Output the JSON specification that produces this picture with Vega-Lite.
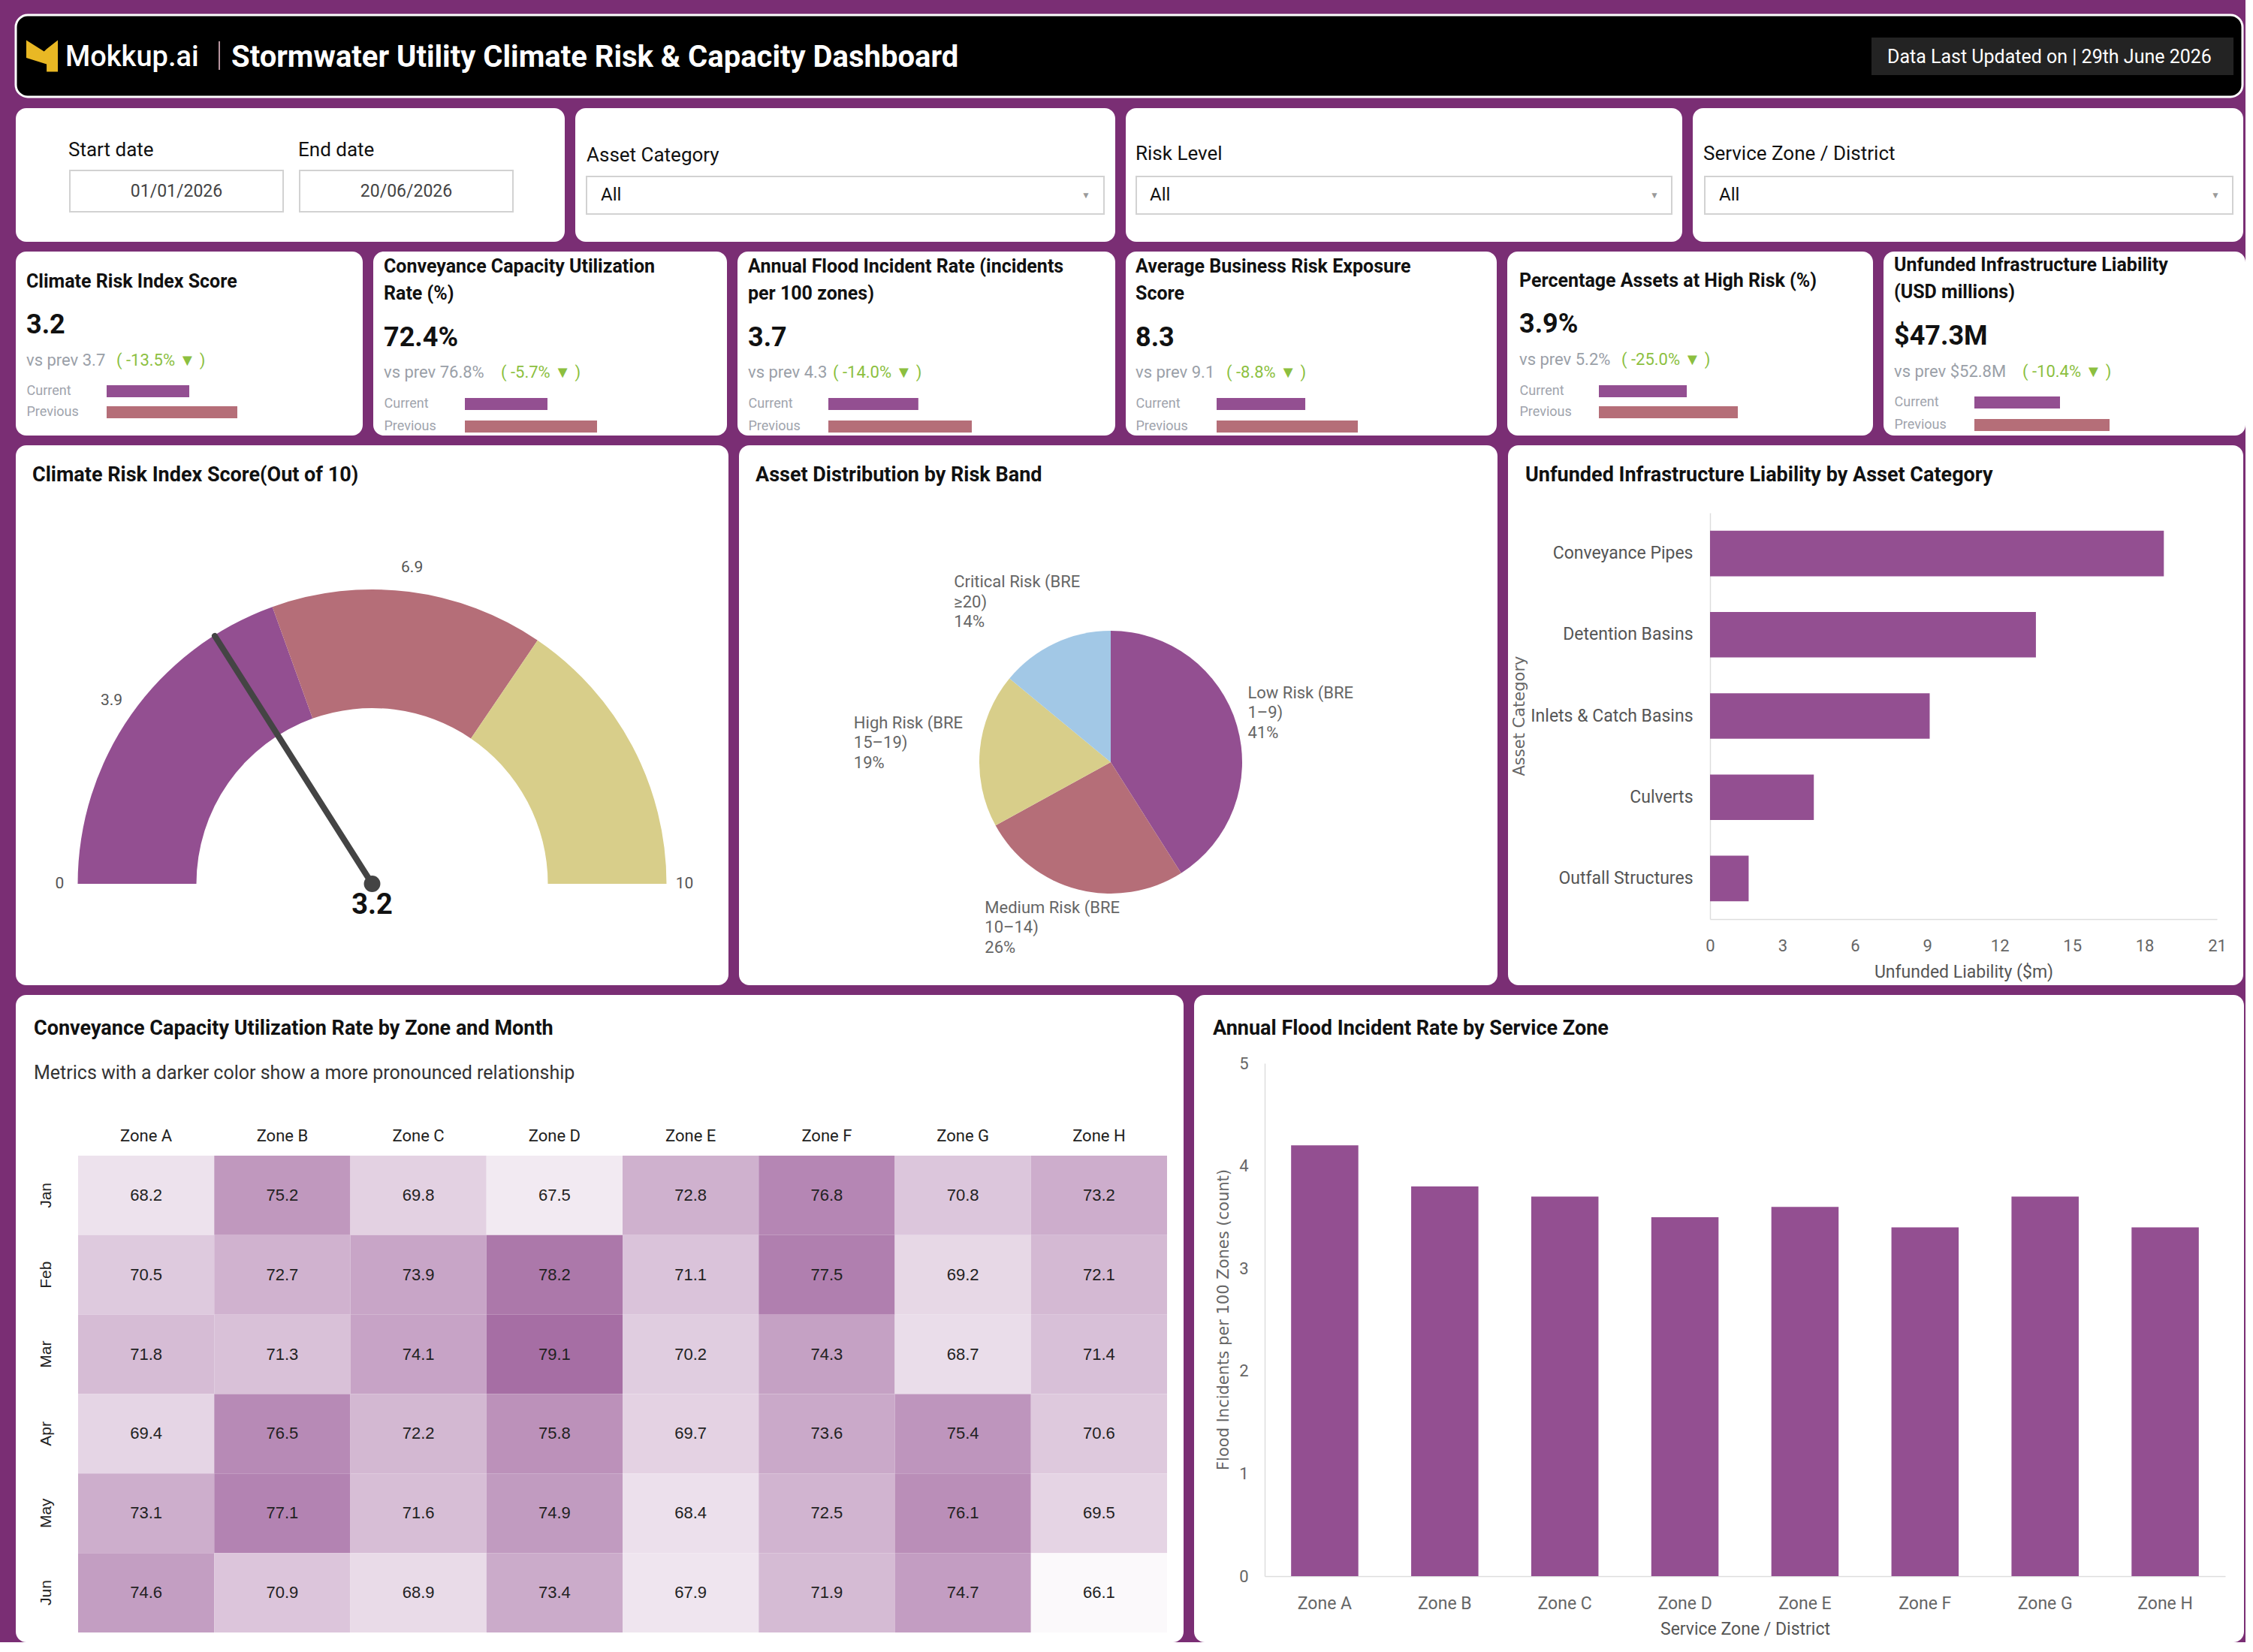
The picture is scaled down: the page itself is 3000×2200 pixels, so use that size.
{
 "$schema": "https://vega.github.io/schema/vega-lite/v6.json",
 "background": "#7a2e74",
 "padding": {"left": 19, "top": 18, "right": 0, "bottom": 0},
 "config": {"font": "Roboto", "view": {"stroke": null}, "axis": {"labelFont": "Roboto", "titleFont": "Roboto", "labelFlush": false, "labelOverlap": false, "grid": false}},
 "spacing": 13,
 "resolve": {"scale": {"color": "independent"}},
 "vconcat": [
  {
   "width": 2965, "height": 109,
   "view": {"fill": "#000000", "stroke": "#ffffff", "strokeWidth": 3, "cornerRadius": 16},
   "layer": [
    {"data": {"values": [{"brand": "Mokkup.ai"}]},
     "mark": {"type": "point", "shape": "M -1 -1 L 0.13 -0.28 L 0.29 -0.44 L 1 -1 L 1 1 L 0.29 1 L 0.29 0.52 L -1 0.12 Z", "filled": true, "color": "#e9b824", "size": 1764, "opacity": 1},
     "encoding": {"x": {"datum": 35, "type": "quantitative", "scale": {"domain": [0, 2965], "range": [0, 2965], "nice": false, "zero": false}, "axis": null},
                  "y": {"datum": 54.5, "type": "quantitative", "scale": {"domain": [0, 109], "range": [0, 109], "nice": false, "zero": false}, "axis": null}}},
    {"data": {"values": [{"brand": "Mokkup.ai"}]},
     "mark": {"type": "text", "align": "left", "baseline": "alphabetic", "fontSize": 38, "fontWeight": 500, "color": "#ffffff"},
     "encoding": {"text": {"field": "brand"}, "x": {"datum": 66, "type": "quantitative"}, "y": {"datum": 68, "type": "quantitative"}}},
    {"data": {"values": [{"sep": "|"}]},
     "mark": {"type": "rule", "color": "#f3c6d3", "strokeWidth": 1.5},
     "encoding": {"x": {"datum": 271, "type": "quantitative"}, "y": {"datum": 35, "type": "quantitative"}, "y2": {"datum": 73}}},
    {"data": {"values": [{"title": "Stormwater Utility Climate Risk & Capacity Dashboard"}]},
     "mark": {"type": "text", "align": "left", "baseline": "alphabetic", "fontSize": 40, "fontWeight": "bold", "color": "#ffffff"},
     "encoding": {"text": {"field": "title"}, "x": {"datum": 287, "type": "quantitative"}, "y": {"datum": 69, "type": "quantitative"}}},
    {"data": {"values": [{"updated": "Data Last Updated on | 29th June 2026"}]},
     "mark": {"type": "rect", "color": "#232323"},
     "encoding": {"x": {"datum": 2471, "type": "quantitative"}, "x2": {"datum": 2953}, "y": {"datum": 30, "type": "quantitative"}, "y2": {"datum": 80}}},
    {"data": {"values": [{"updated": "Data Last Updated on | 29th June 2026"}]},
     "mark": {"type": "text", "align": "left", "baseline": "middle", "fontSize": 25, "color": "#ffffff"},
     "encoding": {"text": {"field": "updated"}, "x": {"datum": 2492, "type": "quantitative"}, "y": {"datum": 56, "type": "quantitative"}}}
   ]
  },
  {
   "hconcat": [
    {
     "width": 731, "height": 178,
     "view": {"fill": "#ffffff", "stroke": null, "cornerRadius": 14},
     "data": {"values": [{"which": "Start date", "date": "01/01/2026"}, {"which": "End date", "date": "20/06/2026"}]},
     "encoding": {"x": {"field": "which", "type": "nominal", "sort": null, "scale": {"domain": ["Start date", "End date"], "range": [72, 662], "paddingInner": 0.0719, "paddingOuter": 0}, "axis": null}},
     "layer": [
      {"mark": {"type": "rect", "fill": "#ffffff", "stroke": "#d2d2d2", "strokeWidth": 2},
       "encoding": {"y": {"datum": 83, "type": "quantitative", "scale": {"domain": [0, 178], "range": [0, 178], "nice": false, "zero": false}, "axis": null}, "y2": {"datum": 138}}},
      {"mark": {"type": "text", "align": "left", "baseline": "alphabetic", "dx": -2, "fontSize": 26, "color": "#111111"},
       "encoding": {"x": {"field": "which", "type": "nominal", "bandPosition": 0}, "y": {"datum": 64, "type": "quantitative"}, "text": {"field": "which"}}},
      {"mark": {"type": "text", "align": "center", "baseline": "middle", "fontSize": 23, "color": "#444444"},
       "encoding": {"y": {"datum": 111, "type": "quantitative"}, "text": {"field": "date"}}}
     ]
    },
    {
     "width": 719, "height": 178,
     "view": {"fill": "#ffffff", "stroke": null, "cornerRadius": 14},
     "data": {"values": [{"filter": "Asset Category", "selected": "All", "arrow": "▼"}]},
     "encoding": {"x": {"field": "filter", "type": "nominal", "scale": {"range": [15, 704], "paddingInner": 0, "paddingOuter": 0}, "axis": null, "bandPosition": 0}},
     "layer": [
      {"mark": {"type": "rect", "fill": "#ffffff", "stroke": "#d2d2d2", "strokeWidth": 2},
       "encoding": {"x": {"field": "filter", "type": "nominal"}, "y": {"datum": 91, "type": "quantitative", "scale": {"domain": [0, 178], "range": [0, 178], "nice": false, "zero": false}, "axis": null}, "y2": {"datum": 141}}},
      {"mark": {"type": "text", "align": "left", "baseline": "alphabetic", "fontSize": 26, "color": "#111111"},
       "encoding": {"y": {"datum": 71, "type": "quantitative"}, "text": {"field": "filter"}}},
      {"mark": {"type": "text", "align": "left", "baseline": "middle", "dx": 19, "fontSize": 24, "color": "#111111"},
       "encoding": {"y": {"datum": 116, "type": "quantitative"}, "text": {"field": "selected"}}},
      {"mark": {"type": "text", "align": "center", "baseline": "middle", "dx": -24, "fontSize": 12, "color": "#9a9a9a"},
       "encoding": {"x": {"field": "filter", "type": "nominal", "bandPosition": 1}, "y": {"datum": 116, "type": "quantitative"}, "text": {"field": "arrow"}}}
     ]
    },
    {
     "width": 741, "height": 178,
     "view": {"fill": "#ffffff", "stroke": null, "cornerRadius": 14},
     "data": {"values": [{"filter": "Risk Level", "selected": "All", "arrow": "▼"}]},
     "encoding": {"x": {"field": "filter", "type": "nominal", "scale": {"range": [14, 727], "paddingInner": 0, "paddingOuter": 0}, "axis": null, "bandPosition": 0}},
     "layer": [
      {"mark": {"type": "rect", "fill": "#ffffff", "stroke": "#d2d2d2", "strokeWidth": 2},
       "encoding": {"x": {"field": "filter", "type": "nominal"}, "y": {"datum": 91, "type": "quantitative", "scale": {"domain": [0, 178], "range": [0, 178], "nice": false, "zero": false}, "axis": null}, "y2": {"datum": 141}}},
      {"mark": {"type": "text", "align": "left", "baseline": "alphabetic", "dx": -1, "fontSize": 26, "color": "#111111"},
       "encoding": {"y": {"datum": 69, "type": "quantitative"}, "text": {"field": "filter"}}},
      {"mark": {"type": "text", "align": "left", "baseline": "middle", "dx": 18, "fontSize": 24, "color": "#111111"},
       "encoding": {"y": {"datum": 116, "type": "quantitative"}, "text": {"field": "selected"}}},
      {"mark": {"type": "text", "align": "center", "baseline": "middle", "dx": -23, "fontSize": 12, "color": "#9a9a9a"},
       "encoding": {"x": {"field": "filter", "type": "nominal", "bandPosition": 1}, "y": {"datum": 116, "type": "quantitative"}, "text": {"field": "arrow"}}}
     ]
    },
    {
     "width": 733, "height": 178,
     "view": {"fill": "#ffffff", "stroke": null, "cornerRadius": 14},
     "data": {"values": [{"filter": "Service Zone / District", "selected": "All", "arrow": "▼"}]},
     "encoding": {"x": {"field": "filter", "type": "nominal", "scale": {"range": [16, 719], "paddingInner": 0, "paddingOuter": 0}, "axis": null, "bandPosition": 0}},
     "layer": [
      {"mark": {"type": "rect", "fill": "#ffffff", "stroke": "#d2d2d2", "strokeWidth": 2},
       "encoding": {"x": {"field": "filter", "type": "nominal"}, "y": {"datum": 91, "type": "quantitative", "scale": {"domain": [0, 178], "range": [0, 178], "nice": false, "zero": false}, "axis": null}, "y2": {"datum": 141}}},
      {"mark": {"type": "text", "align": "left", "baseline": "alphabetic", "dx": -2, "fontSize": 26, "color": "#111111"},
       "encoding": {"y": {"datum": 69, "type": "quantitative"}, "text": {"field": "filter"}}},
      {"mark": {"type": "text", "align": "left", "baseline": "middle", "dx": 19, "fontSize": 24, "color": "#111111"},
       "encoding": {"y": {"datum": 116, "type": "quantitative"}, "text": {"field": "selected"}}},
      {"mark": {"type": "text", "align": "center", "baseline": "middle", "dx": -23, "fontSize": 12, "color": "#9a9a9a"},
       "encoding": {"x": {"field": "filter", "type": "nominal", "bandPosition": 1}, "y": {"datum": 116, "type": "quantitative"}, "text": {"field": "arrow"}}}
     ]
    }
   ],
   "spacing": 14
  },
  {
   "hconcat": [
    {
     "width": 462, "height": 245,
     "view": {"fill": "#ffffff", "stroke": null, "cornerRadius": 14},
     "resolve": {"scale": {"x": "independent", "y": "independent"}},
     "layer": [
      {"data": {"values": [{"period": "Current", "value": 3.2}, {"period": "Previous", "value": 3.7}]},
       "mark": {"type": "bar"},
       "encoding": {
        "y": {"field": "period", "type": "nominal", "scale": {"domain": ["Current", "Previous"], "range": [178, 222], "paddingInner": 0.4286, "paddingOuter": 0}, "axis": {"offset": -121, "domain": false, "ticks": false, "tickSize": 0, "labelAlign": "left", "labelPadding": 107, "labelFontSize": 18, "labelColor": "#a0a4ad", "title": null}},
        "x": {"field": "value", "type": "quantitative", "scale": {"domain": [2.34, 3.7], "range": [121, 295], "nice": false, "zero": false}, "axis": null},
        "x2": {"datum": 2.34},
        "color": {"field": "period", "type": "nominal", "scale": {"domain": ["Current", "Previous"], "range": ["#934f91", "#b56e78"]}, "legend": null}}},
      {"data": {"values": [{"t": "Climate Risk Index Score"}]},
       "mark": {"type": "text", "align": "left", "baseline": "alphabetic", "fontSize": 25, "fontWeight": "bold", "color": "#111111", "lineBreak": "\n", "lineHeight": 36},
       "encoding": {"text": {"field": "t"}, "x": {"datum": 14, "type": "quantitative", "scale": {"domain": [0, 462], "range": [0, 462], "nice": false, "zero": false}, "axis": null}, "y": {"datum": 48, "type": "quantitative", "scale": {"domain": [0, 245], "range": [0, 245], "nice": false, "zero": false}, "axis": null}}},
      {"data": {"values": [{"t": "3.2"}]},
       "mark": {"type": "text", "align": "left", "baseline": "alphabetic", "fontSize": 36, "fontWeight": "bold", "color": "#111111"},
       "encoding": {"text": {"field": "t"}, "x": {"datum": 14, "type": "quantitative", "scale": {"domain": [0, 462], "range": [0, 462], "nice": false, "zero": false}, "axis": null}, "y": {"datum": 109, "type": "quantitative", "scale": {"domain": [0, 245], "range": [0, 245], "nice": false, "zero": false}, "axis": null}}},
      {"data": {"values": [{"t": "vs prev 3.7"}]},
       "mark": {"type": "text", "align": "left", "baseline": "middle", "fontSize": 22, "color": "#9aa0a8"},
       "encoding": {"text": {"field": "t"}, "x": {"datum": 14, "type": "quantitative", "scale": {"domain": [0, 462], "range": [0, 462], "nice": false, "zero": false}, "axis": null}, "y": {"datum": 145, "type": "quantitative", "scale": {"domain": [0, 245], "range": [0, 245], "nice": false, "zero": false}, "axis": null}}},
      {"data": {"values": [{"t": "( -13.5% ▼ )"}]},
       "mark": {"type": "text", "align": "left", "baseline": "middle", "fontSize": 22, "color": "#8cbf3f"},
       "encoding": {"text": {"field": "t"}, "x": {"datum": 134, "type": "quantitative", "scale": {"domain": [0, 462], "range": [0, 462], "nice": false, "zero": false}, "axis": null}, "y": {"datum": 145, "type": "quantitative", "scale": {"domain": [0, 245], "range": [0, 245], "nice": false, "zero": false}, "axis": null}}}
     ]
    },
    {
     "width": 471, "height": 245,
     "view": {"fill": "#ffffff", "stroke": null, "cornerRadius": 14},
     "resolve": {"scale": {"x": "independent", "y": "independent"}},
     "layer": [
      {"data": {"values": [{"period": "Current", "value": 72.4}, {"period": "Previous", "value": 76.8}]},
       "mark": {"type": "bar"},
       "encoding": {
        "y": {"field": "period", "type": "nominal", "scale": {"domain": ["Current", "Previous"], "range": [195, 241], "paddingInner": 0.4667, "paddingOuter": 0}, "axis": {"offset": -122, "domain": false, "ticks": false, "tickSize": 0, "labelAlign": "left", "labelPadding": 108, "labelFontSize": 18, "labelColor": "#a0a4ad", "title": null}},
        "x": {"field": "value", "type": "quantitative", "scale": {"domain": [65.07, 76.8], "range": [122, 298], "nice": false, "zero": false}, "axis": null},
        "x2": {"datum": 65.07},
        "color": {"field": "period", "type": "nominal", "scale": {"domain": ["Current", "Previous"], "range": ["#934f91", "#b56e78"]}, "legend": null}}},
      {"data": {"values": [{"t": "Conveyance Capacity Utilization\nRate (%)"}]},
       "mark": {"type": "text", "align": "left", "baseline": "alphabetic", "fontSize": 25, "fontWeight": "bold", "color": "#111111", "lineBreak": "\n", "lineHeight": 36},
       "encoding": {"text": {"field": "t"}, "x": {"datum": 14, "type": "quantitative", "scale": {"domain": [0, 471], "range": [0, 471], "nice": false, "zero": false}, "axis": null}, "y": {"datum": 28, "type": "quantitative", "scale": {"domain": [0, 245], "range": [0, 245], "nice": false, "zero": false}, "axis": null}}},
      {"data": {"values": [{"t": "72.4%"}]},
       "mark": {"type": "text", "align": "left", "baseline": "alphabetic", "fontSize": 36, "fontWeight": "bold", "color": "#111111"},
       "encoding": {"text": {"field": "t"}, "x": {"datum": 14, "type": "quantitative", "scale": {"domain": [0, 471], "range": [0, 471], "nice": false, "zero": false}, "axis": null}, "y": {"datum": 126, "type": "quantitative", "scale": {"domain": [0, 245], "range": [0, 245], "nice": false, "zero": false}, "axis": null}}},
      {"data": {"values": [{"t": "vs prev 76.8%"}]},
       "mark": {"type": "text", "align": "left", "baseline": "middle", "fontSize": 22, "color": "#9aa0a8"},
       "encoding": {"text": {"field": "t"}, "x": {"datum": 14, "type": "quantitative", "scale": {"domain": [0, 471], "range": [0, 471], "nice": false, "zero": false}, "axis": null}, "y": {"datum": 161, "type": "quantitative", "scale": {"domain": [0, 245], "range": [0, 245], "nice": false, "zero": false}, "axis": null}}},
      {"data": {"values": [{"t": "( -5.7% ▼ )"}]},
       "mark": {"type": "text", "align": "left", "baseline": "middle", "fontSize": 22, "color": "#8cbf3f"},
       "encoding": {"text": {"field": "t"}, "x": {"datum": 170, "type": "quantitative", "scale": {"domain": [0, 471], "range": [0, 471], "nice": false, "zero": false}, "axis": null}, "y": {"datum": 161, "type": "quantitative", "scale": {"domain": [0, 245], "range": [0, 245], "nice": false, "zero": false}, "axis": null}}}
     ]
    },
    {
     "width": 503, "height": 245,
     "view": {"fill": "#ffffff", "stroke": null, "cornerRadius": 14},
     "resolve": {"scale": {"x": "independent", "y": "independent"}},
     "layer": [
      {"data": {"values": [{"period": "Current", "value": 3.7}, {"period": "Previous", "value": 4.3}]},
       "mark": {"type": "bar"},
       "encoding": {
        "y": {"field": "period", "type": "nominal", "scale": {"domain": ["Current", "Previous"], "range": [195, 241], "paddingInner": 0.4667, "paddingOuter": 0}, "axis": {"offset": -121, "domain": false, "ticks": false, "tickSize": 0, "labelAlign": "left", "labelPadding": 107, "labelFontSize": 18, "labelColor": "#a0a4ad", "title": null}},
        "x": {"field": "value", "type": "quantitative", "scale": {"domain": [2.69, 4.3], "range": [121, 312], "nice": false, "zero": false}, "axis": null},
        "x2": {"datum": 2.69},
        "color": {"field": "period", "type": "nominal", "scale": {"domain": ["Current", "Previous"], "range": ["#934f91", "#b56e78"]}, "legend": null}}},
      {"data": {"values": [{"t": "Annual Flood Incident Rate (incidents\nper 100 zones)"}]},
       "mark": {"type": "text", "align": "left", "baseline": "alphabetic", "fontSize": 25, "fontWeight": "bold", "color": "#111111", "lineBreak": "\n", "lineHeight": 36},
       "encoding": {"text": {"field": "t"}, "x": {"datum": 14, "type": "quantitative", "scale": {"domain": [0, 503], "range": [0, 503], "nice": false, "zero": false}, "axis": null}, "y": {"datum": 28, "type": "quantitative", "scale": {"domain": [0, 245], "range": [0, 245], "nice": false, "zero": false}, "axis": null}}},
      {"data": {"values": [{"t": "3.7"}]},
       "mark": {"type": "text", "align": "left", "baseline": "alphabetic", "fontSize": 36, "fontWeight": "bold", "color": "#111111"},
       "encoding": {"text": {"field": "t"}, "x": {"datum": 14, "type": "quantitative", "scale": {"domain": [0, 503], "range": [0, 503], "nice": false, "zero": false}, "axis": null}, "y": {"datum": 126, "type": "quantitative", "scale": {"domain": [0, 245], "range": [0, 245], "nice": false, "zero": false}, "axis": null}}},
      {"data": {"values": [{"t": "vs prev 4.3"}]},
       "mark": {"type": "text", "align": "left", "baseline": "middle", "fontSize": 22, "color": "#9aa0a8"},
       "encoding": {"text": {"field": "t"}, "x": {"datum": 14, "type": "quantitative", "scale": {"domain": [0, 503], "range": [0, 503], "nice": false, "zero": false}, "axis": null}, "y": {"datum": 161, "type": "quantitative", "scale": {"domain": [0, 245], "range": [0, 245], "nice": false, "zero": false}, "axis": null}}},
      {"data": {"values": [{"t": "( -14.0% ▼ )"}]},
       "mark": {"type": "text", "align": "left", "baseline": "middle", "fontSize": 22, "color": "#8cbf3f"},
       "encoding": {"text": {"field": "t"}, "x": {"datum": 127, "type": "quantitative", "scale": {"domain": [0, 503], "range": [0, 503], "nice": false, "zero": false}, "axis": null}, "y": {"datum": 161, "type": "quantitative", "scale": {"domain": [0, 245], "range": [0, 245], "nice": false, "zero": false}, "axis": null}}}
     ]
    },
    {
     "width": 494, "height": 245,
     "view": {"fill": "#ffffff", "stroke": null, "cornerRadius": 14},
     "resolve": {"scale": {"x": "independent", "y": "independent"}},
     "layer": [
      {"data": {"values": [{"period": "Current", "value": 8.3}, {"period": "Previous", "value": 9.1}]},
       "mark": {"type": "bar"},
       "encoding": {
        "y": {"field": "period", "type": "nominal", "scale": {"domain": ["Current", "Previous"], "range": [195, 241], "paddingInner": 0.4667, "paddingOuter": 0}, "axis": {"offset": -121, "domain": false, "ticks": false, "tickSize": 0, "labelAlign": "left", "labelPadding": 108, "labelFontSize": 18, "labelColor": "#a0a4ad", "title": null}},
        "x": {"field": "value", "type": "quantitative", "scale": {"domain": [6.95, 9.1], "range": [121, 309], "nice": false, "zero": false}, "axis": null},
        "x2": {"datum": 6.95},
        "color": {"field": "period", "type": "nominal", "scale": {"domain": ["Current", "Previous"], "range": ["#934f91", "#b56e78"]}, "legend": null}}},
      {"data": {"values": [{"t": "Average Business Risk Exposure\nScore"}]},
       "mark": {"type": "text", "align": "left", "baseline": "alphabetic", "fontSize": 25, "fontWeight": "bold", "color": "#111111", "lineBreak": "\n", "lineHeight": 36},
       "encoding": {"text": {"field": "t"}, "x": {"datum": 13, "type": "quantitative", "scale": {"domain": [0, 494], "range": [0, 494], "nice": false, "zero": false}, "axis": null}, "y": {"datum": 28, "type": "quantitative", "scale": {"domain": [0, 245], "range": [0, 245], "nice": false, "zero": false}, "axis": null}}},
      {"data": {"values": [{"t": "8.3"}]},
       "mark": {"type": "text", "align": "left", "baseline": "alphabetic", "fontSize": 36, "fontWeight": "bold", "color": "#111111"},
       "encoding": {"text": {"field": "t"}, "x": {"datum": 13, "type": "quantitative", "scale": {"domain": [0, 494], "range": [0, 494], "nice": false, "zero": false}, "axis": null}, "y": {"datum": 126, "type": "quantitative", "scale": {"domain": [0, 245], "range": [0, 245], "nice": false, "zero": false}, "axis": null}}},
      {"data": {"values": [{"t": "vs prev 9.1"}]},
       "mark": {"type": "text", "align": "left", "baseline": "middle", "fontSize": 22, "color": "#9aa0a8"},
       "encoding": {"text": {"field": "t"}, "x": {"datum": 13, "type": "quantitative", "scale": {"domain": [0, 494], "range": [0, 494], "nice": false, "zero": false}, "axis": null}, "y": {"datum": 161, "type": "quantitative", "scale": {"domain": [0, 245], "range": [0, 245], "nice": false, "zero": false}, "axis": null}}},
      {"data": {"values": [{"t": "( -8.8% ▼ )"}]},
       "mark": {"type": "text", "align": "left", "baseline": "middle", "fontSize": 22, "color": "#8cbf3f"},
       "encoding": {"text": {"field": "t"}, "x": {"datum": 134, "type": "quantitative", "scale": {"domain": [0, 494], "range": [0, 494], "nice": false, "zero": false}, "axis": null}, "y": {"datum": 161, "type": "quantitative", "scale": {"domain": [0, 245], "range": [0, 245], "nice": false, "zero": false}, "axis": null}}}
     ]
    },
    {
     "width": 487, "height": 245,
     "view": {"fill": "#ffffff", "stroke": null, "cornerRadius": 14},
     "resolve": {"scale": {"x": "independent", "y": "independent"}},
     "layer": [
      {"data": {"values": [{"period": "Current", "value": 3.9}, {"period": "Previous", "value": 5.2}]},
       "mark": {"type": "bar"},
       "encoding": {
        "y": {"field": "period", "type": "nominal", "scale": {"domain": ["Current", "Previous"], "range": [178, 222], "paddingInner": 0.4286, "paddingOuter": 0}, "axis": {"offset": -122, "domain": false, "ticks": false, "tickSize": 0, "labelAlign": "left", "labelPadding": 106, "labelFontSize": 18, "labelColor": "#a0a4ad", "title": null}},
        "x": {"field": "value", "type": "quantitative", "scale": {"domain": [1.66, 5.2], "range": [122, 307], "nice": false, "zero": false}, "axis": null},
        "x2": {"datum": 1.66},
        "color": {"field": "period", "type": "nominal", "scale": {"domain": ["Current", "Previous"], "range": ["#934f91", "#b56e78"]}, "legend": null}}},
      {"data": {"values": [{"t": "Percentage Assets at High Risk (%)"}]},
       "mark": {"type": "text", "align": "left", "baseline": "alphabetic", "fontSize": 25, "fontWeight": "bold", "color": "#111111", "lineBreak": "\n", "lineHeight": 36},
       "encoding": {"text": {"field": "t"}, "x": {"datum": 16, "type": "quantitative", "scale": {"domain": [0, 487], "range": [0, 487], "nice": false, "zero": false}, "axis": null}, "y": {"datum": 47, "type": "quantitative", "scale": {"domain": [0, 245], "range": [0, 245], "nice": false, "zero": false}, "axis": null}}},
      {"data": {"values": [{"t": "3.9%"}]},
       "mark": {"type": "text", "align": "left", "baseline": "alphabetic", "fontSize": 36, "fontWeight": "bold", "color": "#111111"},
       "encoding": {"text": {"field": "t"}, "x": {"datum": 16, "type": "quantitative", "scale": {"domain": [0, 487], "range": [0, 487], "nice": false, "zero": false}, "axis": null}, "y": {"datum": 108, "type": "quantitative", "scale": {"domain": [0, 245], "range": [0, 245], "nice": false, "zero": false}, "axis": null}}},
      {"data": {"values": [{"t": "vs prev 5.2%"}]},
       "mark": {"type": "text", "align": "left", "baseline": "middle", "fontSize": 22, "color": "#9aa0a8"},
       "encoding": {"text": {"field": "t"}, "x": {"datum": 16, "type": "quantitative", "scale": {"domain": [0, 487], "range": [0, 487], "nice": false, "zero": false}, "axis": null}, "y": {"datum": 144, "type": "quantitative", "scale": {"domain": [0, 245], "range": [0, 245], "nice": false, "zero": false}, "axis": null}}},
      {"data": {"values": [{"t": "( -25.0% ▼ )"}]},
       "mark": {"type": "text", "align": "left", "baseline": "middle", "fontSize": 22, "color": "#8cbf3f"},
       "encoding": {"text": {"field": "t"}, "x": {"datum": 152, "type": "quantitative", "scale": {"domain": [0, 487], "range": [0, 487], "nice": false, "zero": false}, "axis": null}, "y": {"datum": 144, "type": "quantitative", "scale": {"domain": [0, 245], "range": [0, 245], "nice": false, "zero": false}, "axis": null}}}
     ]
    },
    {
     "width": 482, "height": 245,
     "view": {"fill": "#ffffff", "stroke": null, "cornerRadius": 14},
     "resolve": {"scale": {"x": "independent", "y": "independent"}},
     "layer": [
      {"data": {"values": [{"period": "Current", "value": 47.3}, {"period": "Previous", "value": 52.8}]},
       "mark": {"type": "bar"},
       "encoding": {
        "y": {"field": "period", "type": "nominal", "scale": {"domain": ["Current", "Previous"], "range": [193, 239], "paddingInner": 0.4667, "paddingOuter": 0}, "axis": {"offset": -121, "domain": false, "ticks": false, "tickSize": 0, "labelAlign": "left", "labelPadding": 107, "labelFontSize": 18, "labelColor": "#a0a4ad", "title": null}},
        "x": {"field": "value", "type": "quantitative", "scale": {"domain": [37.8, 52.8], "range": [121, 301], "nice": false, "zero": false}, "axis": null},
        "x2": {"datum": 37.8},
        "color": {"field": "period", "type": "nominal", "scale": {"domain": ["Current", "Previous"], "range": ["#934f91", "#b56e78"]}, "legend": null}}},
      {"data": {"values": [{"t": "Unfunded Infrastructure Liability\n(USD millions)"}]},
       "mark": {"type": "text", "align": "left", "baseline": "alphabetic", "fontSize": 25, "fontWeight": "bold", "color": "#111111", "lineBreak": "\n", "lineHeight": 36},
       "encoding": {"text": {"field": "t"}, "x": {"datum": 14, "type": "quantitative", "scale": {"domain": [0, 482], "range": [0, 482], "nice": false, "zero": false}, "axis": null}, "y": {"datum": 26, "type": "quantitative", "scale": {"domain": [0, 245], "range": [0, 245], "nice": false, "zero": false}, "axis": null}}},
      {"data": {"values": [{"t": "$47.3M"}]},
       "mark": {"type": "text", "align": "left", "baseline": "alphabetic", "fontSize": 36, "fontWeight": "bold", "color": "#111111"},
       "encoding": {"text": {"field": "t"}, "x": {"datum": 14, "type": "quantitative", "scale": {"domain": [0, 482], "range": [0, 482], "nice": false, "zero": false}, "axis": null}, "y": {"datum": 124, "type": "quantitative", "scale": {"domain": [0, 245], "range": [0, 245], "nice": false, "zero": false}, "axis": null}}},
      {"data": {"values": [{"t": "vs prev $52.8M"}]},
       "mark": {"type": "text", "align": "left", "baseline": "middle", "fontSize": 22, "color": "#9aa0a8"},
       "encoding": {"text": {"field": "t"}, "x": {"datum": 14, "type": "quantitative", "scale": {"domain": [0, 482], "range": [0, 482], "nice": false, "zero": false}, "axis": null}, "y": {"datum": 160, "type": "quantitative", "scale": {"domain": [0, 245], "range": [0, 245], "nice": false, "zero": false}, "axis": null}}},
      {"data": {"values": [{"t": "( -10.4% ▼ )"}]},
       "mark": {"type": "text", "align": "left", "baseline": "middle", "fontSize": 22, "color": "#8cbf3f"},
       "encoding": {"text": {"field": "t"}, "x": {"datum": 185, "type": "quantitative", "scale": {"domain": [0, 482], "range": [0, 482], "nice": false, "zero": false}, "axis": null}, "y": {"datum": 160, "type": "quantitative", "scale": {"domain": [0, 245], "range": [0, 245], "nice": false, "zero": false}, "axis": null}}}
     ]
    }
   ],
   "spacing": 14
  },
  {
   "hconcat": [
    {
     "width": 949, "height": 719,
     "view": {"fill": "#ffffff", "stroke": null, "cornerRadius": 14},
     "layer": [
      {"data": {"values": [{"band": "Low", "seq": 1, "span": 3.9, "label": "3.9"}, {"band": "Moderate", "seq": 2, "span": 3.0, "label": "6.9"}, {"band": "High", "seq": 3, "span": 3.1, "label": ""}]},
       "encoding": {
        "theta": {"field": "span", "type": "quantitative", "stack": true, "scale": {"domain": [0, 10], "range": [-1.5708, 1.5708], "nice": false, "zero": false}},
        "order": {"field": "seq", "type": "quantitative"},
        "y": {"datum": 0, "type": "quantitative", "scale": {"domain": [-135, 584], "nice": false, "zero": false}, "axis": null}},
       "layer": [
        {"mark": {"type": "arc", "radius": 392, "radius2": 234},
         "encoding": {"color": {"field": "band", "type": "nominal", "scale": {"domain": ["Low", "Moderate", "High"], "range": ["#934f91", "#b56e78", "#d8ce8a"]}, "legend": null}}},
        {"mark": {"type": "text", "radius": 424, "fontSize": 21, "color": "#555555"},
         "encoding": {"text": {"field": "label"}}}
       ]},
      {"data": {"values": [{"tick": 0, "label": "0"}, {"tick": 10, "label": "10"}]},
       "mark": {"type": "text", "radius": 416, "fontSize": 21, "color": "#555555"},
       "encoding": {"theta": {"field": "tick", "type": "quantitative", "stack": null}, "text": {"field": "label"}, "y": {"datum": 0, "type": "quantitative"}}},
      {"data": {"values": [{"metric": "Climate Risk Index Score", "value": 3.2}]},
       "encoding": {"y": {"datum": 0, "type": "quantitative"}},
       "layer": [
        {"mark": {"type": "point", "shape": "M 0 0 L 0 -1", "size": 611524, "filled": false, "color": "#444444", "strokeWidth": 8, "strokeCap": "round", "opacity": 1},
         "encoding": {"angle": {"field": "value", "type": "quantitative", "scale": {"domain": [0, 10], "range": [-90, 90]}}}},
        {"mark": {"type": "point", "shape": "circle", "filled": true, "color": "#444444", "size": 480, "opacity": 1}},
        {"mark": {"type": "text", "fontSize": 38, "fontWeight": "bold", "color": "#111111", "baseline": "alphabetic"},
         "encoding": {"text": {"field": "value", "type": "quantitative", "format": ".1f"}, "y": {"datum": -40, "type": "quantitative"}}}
       ]},
      {"data": {"values": [{"t": "Climate Risk Index Score(Out of 10)"}]},
       "mark": {"type": "text", "align": "left", "baseline": "alphabetic", "fontSize": 27, "fontWeight": "bold", "color": "#111111"},
       "encoding": {"text": {"field": "t"}, "x": {"datum": -452.5, "type": "quantitative", "scale": {"domain": [-474.5, 474.5], "nice": false, "zero": false}, "axis": null}, "y": {"datum": 536, "type": "quantitative"}}}
     ]
    },
    {
     "width": 1010, "height": 719,
     "view": {"fill": "#ffffff", "stroke": null, "cornerRadius": 14},
     "layer": [
      {"data": {"values": [
        {"band": "Low Risk", "seq": 1, "share": 41, "label": "Low Risk (BRE\n1–9)\n41%"},
        {"band": "Medium Risk", "seq": 2, "share": 26, "label": "Medium Risk (BRE\n10–14)\n26%"},
        {"band": "High Risk", "seq": 3, "share": 19, "label": "High Risk (BRE\n15–19)\n19%"},
        {"band": "Critical Risk", "seq": 4, "share": 14, "label": "Critical Risk (BRE\n≥20)\n14%"}]},
       "encoding": {
        "theta": {"field": "share", "type": "quantitative", "stack": true},
        "order": {"field": "seq", "type": "quantitative"},
        "x": {"datum": 0, "type": "quantitative", "scale": {"domain": [-495, 515], "nice": false, "zero": false}, "axis": null},
        "y": {"datum": 0, "type": "quantitative", "scale": {"domain": [-297, 422], "nice": false, "zero": false}, "axis": null}},
       "layer": [
        {"mark": {"type": "arc", "radius": 175},
         "encoding": {"color": {"field": "band", "type": "nominal", "scale": {"domain": ["Low Risk", "Medium Risk", "High Risk", "Critical Risk"], "range": ["#934f91", "#b56e78", "#d8ce8a", "#a2c8e6"]}, "legend": null}}},
        {"mark": {"type": "text", "radius": 190, "dx": 0, "dy": -39, "fontSize": 22, "color": "#666666", "lineBreak": "\n", "lineHeight": 26.5, "align": "left", "baseline": "middle"},
         "encoding": {"text": {"condition": {"test": "datum.seq === 1", "field": "label"}, "value": ""}}},
        {"mark": {"type": "text", "radius": 200, "dx": -118, "dy": 0, "fontSize": 22, "color": "#666666", "lineBreak": "\n", "lineHeight": 26.5, "align": "left", "baseline": "middle"},
         "encoding": {"text": {"condition": {"test": "datum.seq === 2", "field": "label"}, "value": ""}}},
        {"mark": {"type": "text", "radius": 195, "dx": -148, "dy": -34, "fontSize": 22, "color": "#666666", "lineBreak": "\n", "lineHeight": 26.5, "align": "left", "baseline": "middle"},
         "encoding": {"text": {"condition": {"test": "datum.seq === 3", "field": "label"}, "value": ""}}},
        {"mark": {"type": "text", "radius": 265, "dx": -96, "dy": 0, "fontSize": 22, "color": "#666666", "lineBreak": "\n", "lineHeight": 26.5, "align": "left", "baseline": "middle"},
         "encoding": {"text": {"condition": {"test": "datum.seq === 4", "field": "label"}, "value": ""}}}
       ]},
      {"data": {"values": [{"t": "Asset Distribution by Risk Band"}]},
       "mark": {"type": "text", "align": "left", "baseline": "alphabetic", "fontSize": 27, "fontWeight": "bold", "color": "#111111"},
       "encoding": {"text": {"field": "t"}, "x": {"datum": -473, "type": "quantitative"}, "y": {"datum": 374, "type": "quantitative"}}}
     ]
    },
    {
     "width": 979, "height": 719,
     "view": {"fill": "#ffffff", "stroke": null, "cornerRadius": 14},
     "resolve": {"scale": {"x": "independent", "y": "independent"}},
     "layer": [
      {"data": {"values": [
        {"category": "Conveyance Pipes", "liability": 18.8},
        {"category": "Detention Basins", "liability": 13.5},
        {"category": "Inlets & Catch Basins", "liability": 9.1},
        {"category": "Culverts", "liability": 4.3},
        {"category": "Outfall Structures", "liability": 1.6}]},
       "mark": {"type": "bar", "color": "#934f91"},
       "encoding": {
        "y": {"field": "category", "type": "nominal", "sort": null, "scale": {"domain": ["Conveyance Pipes", "Detention Basins", "Inlets & Catch Basins", "Culverts", "Outfall Structures"], "range": [90, 631], "paddingInner": 0.44, "paddingOuter": 0.22},
              "axis": {"offset": -269, "domainColor": "#dddddd", "domainWidth": 1.5, "ticks": false, "tickSize": 0, "labelPadding": 23, "labelLimit": 400, "labelFontSize": 23, "labelColor": "#555555", "title": "Asset Category", "titleFont": "DejaVu Sans", "titleFontSize": 21, "titleFontWeight": "normal", "titleColor": "#666666", "titleX": -254, "titleY": 360, "titleAngle": -90, "titleAlign": "center", "titleBaseline": "middle"}},
        "x": {"field": "liability", "type": "quantitative", "scale": {"domain": [0, 21], "range": [269, 944], "nice": false, "zero": false},
              "axis": {"values": [0, 3, 6, 9, 12, 15, 18, 21], "offset": -88, "domainColor": "#dddddd", "domainWidth": 1.5, "ticks": false, "tickSize": 0, "labelPadding": 25, "labelFontSize": 22, "labelColor": "#666666", "title": "Unfunded Liability ($m)", "titleFontSize": 23, "titleFontWeight": "normal", "titleColor": "#555555", "titleY": 70, "titleBaseline": "middle"}}}},
      {"data": {"values": [{"t": "Unfunded Infrastructure Liability by Asset Category"}]},
       "mark": {"type": "text", "align": "left", "baseline": "alphabetic", "fontSize": 27, "fontWeight": "bold", "color": "#111111"},
       "encoding": {"text": {"field": "t"}, "x": {"datum": 23, "type": "quantitative", "scale": {"domain": [0, 979], "range": [0, 979], "nice": false, "zero": false}, "axis": null}, "y": {"datum": 48, "type": "quantitative", "scale": {"domain": [0, 719], "range": [0, 719], "nice": false, "zero": false}, "axis": null}}}
     ]
    }
   ],
   "spacing": 14,
   "resolve": {"scale": {"color": "independent"}}
  },
  {
   "hconcat": [
    {
     "width": 1555, "height": 862,
     "view": {"fill": "#ffffff", "stroke": null, "cornerRadius": 14},
     "resolve": {"scale": {"x": "independent", "y": "independent"}},
     "layer": [
      {"data": {"values": [
        {"month": "Jan", "zone": "Zone A", "value": 68.2}, {"month": "Jan", "zone": "Zone B", "value": 75.2}, {"month": "Jan", "zone": "Zone C", "value": 69.8}, {"month": "Jan", "zone": "Zone D", "value": 67.5},
        {"month": "Jan", "zone": "Zone E", "value": 72.8}, {"month": "Jan", "zone": "Zone F", "value": 76.8}, {"month": "Jan", "zone": "Zone G", "value": 70.8}, {"month": "Jan", "zone": "Zone H", "value": 73.2},
        {"month": "Feb", "zone": "Zone A", "value": 70.5}, {"month": "Feb", "zone": "Zone B", "value": 72.7}, {"month": "Feb", "zone": "Zone C", "value": 73.9}, {"month": "Feb", "zone": "Zone D", "value": 78.2},
        {"month": "Feb", "zone": "Zone E", "value": 71.1}, {"month": "Feb", "zone": "Zone F", "value": 77.5}, {"month": "Feb", "zone": "Zone G", "value": 69.2}, {"month": "Feb", "zone": "Zone H", "value": 72.1},
        {"month": "Mar", "zone": "Zone A", "value": 71.8}, {"month": "Mar", "zone": "Zone B", "value": 71.3}, {"month": "Mar", "zone": "Zone C", "value": 74.1}, {"month": "Mar", "zone": "Zone D", "value": 79.1},
        {"month": "Mar", "zone": "Zone E", "value": 70.2}, {"month": "Mar", "zone": "Zone F", "value": 74.3}, {"month": "Mar", "zone": "Zone G", "value": 68.7}, {"month": "Mar", "zone": "Zone H", "value": 71.4},
        {"month": "Apr", "zone": "Zone A", "value": 69.4}, {"month": "Apr", "zone": "Zone B", "value": 76.5}, {"month": "Apr", "zone": "Zone C", "value": 72.2}, {"month": "Apr", "zone": "Zone D", "value": 75.8},
        {"month": "Apr", "zone": "Zone E", "value": 69.7}, {"month": "Apr", "zone": "Zone F", "value": 73.6}, {"month": "Apr", "zone": "Zone G", "value": 75.4}, {"month": "Apr", "zone": "Zone H", "value": 70.6},
        {"month": "May", "zone": "Zone A", "value": 73.1}, {"month": "May", "zone": "Zone B", "value": 77.1}, {"month": "May", "zone": "Zone C", "value": 71.6}, {"month": "May", "zone": "Zone D", "value": 74.9},
        {"month": "May", "zone": "Zone E", "value": 68.4}, {"month": "May", "zone": "Zone F", "value": 72.5}, {"month": "May", "zone": "Zone G", "value": 76.1}, {"month": "May", "zone": "Zone H", "value": 69.5},
        {"month": "Jun", "zone": "Zone A", "value": 74.6}, {"month": "Jun", "zone": "Zone B", "value": 70.9}, {"month": "Jun", "zone": "Zone C", "value": 68.9}, {"month": "Jun", "zone": "Zone D", "value": 73.4},
        {"month": "Jun", "zone": "Zone E", "value": 67.9}, {"month": "Jun", "zone": "Zone F", "value": 71.9}, {"month": "Jun", "zone": "Zone G", "value": 74.7}, {"month": "Jun", "zone": "Zone H", "value": 66.1}]},
       "encoding": {
        "x": {"field": "zone", "type": "nominal", "sort": null, "scale": {"domain": ["Zone A", "Zone B", "Zone C", "Zone D", "Zone E", "Zone F", "Zone G", "Zone H"], "range": [83, 1533], "paddingInner": 0, "paddingOuter": 0},
              "axis": {"orient": "top", "offset": -214, "domain": false, "ticks": false, "tickSize": 0, "labelPadding": 15, "labelFontSize": 22, "labelColor": "#222222", "labelAngle": 0, "title": null}},
        "y": {"field": "month", "type": "nominal", "sort": null, "scale": {"domain": ["Jan", "Feb", "Mar", "Apr", "May", "Jun"], "range": [214, 849], "paddingInner": 0, "paddingOuter": 0},
              "axis": {"offset": -83, "domain": false, "ticks": false, "tickSize": 0, "labelAngle": -90, "labelAlign": "center", "labelBaseline": "bottom", "labelPadding": 33, "labelFont": "Liberation Sans", "labelFontSize": 21, "labelColor": "#222222", "title": null}}},
       "layer": [
        {"mark": {"type": "rect"},
         "encoding": {"color": {"field": "value", "type": "quantitative", "scale": {"domain": [65.5, 82], "range": ["#ffffff", "#934f91"], "interpolate": "rgb"}, "legend": null}}},
        {"mark": {"type": "text", "font": "Liberation Sans", "fontSize": 22, "color": "#222222"},
         "encoding": {"text": {"field": "value", "type": "quantitative", "format": ".1f"}}}
       ]},
      {"data": {"values": [{"t": "Conveyance Capacity Utilization Rate by Zone and Month", "s": "Metrics with a darker color show a more pronounced relationship"}]},
       "encoding": {"x": {"datum": 24, "type": "quantitative", "scale": {"domain": [0, 1555], "range": [0, 1555], "nice": false, "zero": false}, "axis": null}},
       "layer": [
        {"mark": {"type": "text", "align": "left", "baseline": "alphabetic", "fontSize": 27, "fontWeight": "bold", "color": "#111111"},
         "encoding": {"text": {"field": "t"}, "y": {"datum": 53, "type": "quantitative", "scale": {"domain": [0, 862], "range": [0, 862], "nice": false, "zero": false}, "axis": null}}},
        {"mark": {"type": "text", "align": "left", "baseline": "alphabetic", "fontSize": 25, "color": "#333333"},
         "encoding": {"text": {"field": "s"}, "y": {"datum": 112, "type": "quantitative"}}}
       ]}
     ]
    },
    {
     "width": 1398, "height": 862,
     "view": {"fill": "#ffffff", "stroke": null, "cornerRadius": 14},
     "resolve": {"scale": {"x": "independent", "y": "independent"}},
     "layer": [
      {"data": {"values": [
        {"zone": "Zone A", "rate": 4.2}, {"zone": "Zone B", "rate": 3.8}, {"zone": "Zone C", "rate": 3.7}, {"zone": "Zone D", "rate": 3.5},
        {"zone": "Zone E", "rate": 3.6}, {"zone": "Zone F", "rate": 3.4}, {"zone": "Zone G", "rate": 3.7}, {"zone": "Zone H", "rate": 3.4}]},
       "mark": {"type": "bar", "color": "#934f91"},
       "encoding": {
        "x": {"field": "zone", "type": "nominal", "sort": null, "scale": {"domain": ["Zone A", "Zone B", "Zone C", "Zone D", "Zone E", "Zone F", "Zone G", "Zone H"], "range": [94, 1373], "paddingInner": 0.44, "paddingOuter": 0.22},
              "axis": {"offset": -88, "domainColor": "#dddddd", "domainWidth": 1.5, "ticks": false, "tickSize": 0, "labelPadding": 25, "labelFontSize": 23, "labelColor": "#666666", "labelAngle": 0, "title": "Service Zone / District", "titleFontSize": 23, "titleFontWeight": "normal", "titleColor": "#555555", "titleY": 70, "titleBaseline": "middle"}},
        "y": {"field": "rate", "type": "quantitative", "scale": {"domain": [0, 5], "range": [774, 91], "nice": false, "zero": false},
              "axis": {"values": [0, 1, 2, 3, 4, 5], "offset": -94, "domainColor": "#dddddd", "domainWidth": 1.5, "ticks": false, "tickSize": 0, "labelPadding": 22, "labelFontSize": 22, "labelColor": "#666666", "title": "Flood Incidents per 100 Zones (count)", "titleFont": "DejaVu Sans", "titleFontSize": 21, "titleFontWeight": "normal", "titleColor": "#666666", "titleX": -55, "titleY": 432, "titleAngle": -90, "titleAlign": "center", "titleBaseline": "middle"}}}},
      {"data": {"values": [{"t": "Annual Flood Incident Rate by Service Zone"}]},
       "mark": {"type": "text", "align": "left", "baseline": "alphabetic", "fontSize": 27, "fontWeight": "bold", "color": "#111111"},
       "encoding": {"text": {"field": "t"}, "x": {"datum": 25, "type": "quantitative", "scale": {"domain": [0, 1398], "range": [0, 1398], "nice": false, "zero": false}, "axis": null}, "y": {"datum": 53, "type": "quantitative", "scale": {"domain": [0, 862], "range": [0, 862], "nice": false, "zero": false}, "axis": null}}}
     ]
    }
   ],
   "spacing": 14
  }
 ]
}
